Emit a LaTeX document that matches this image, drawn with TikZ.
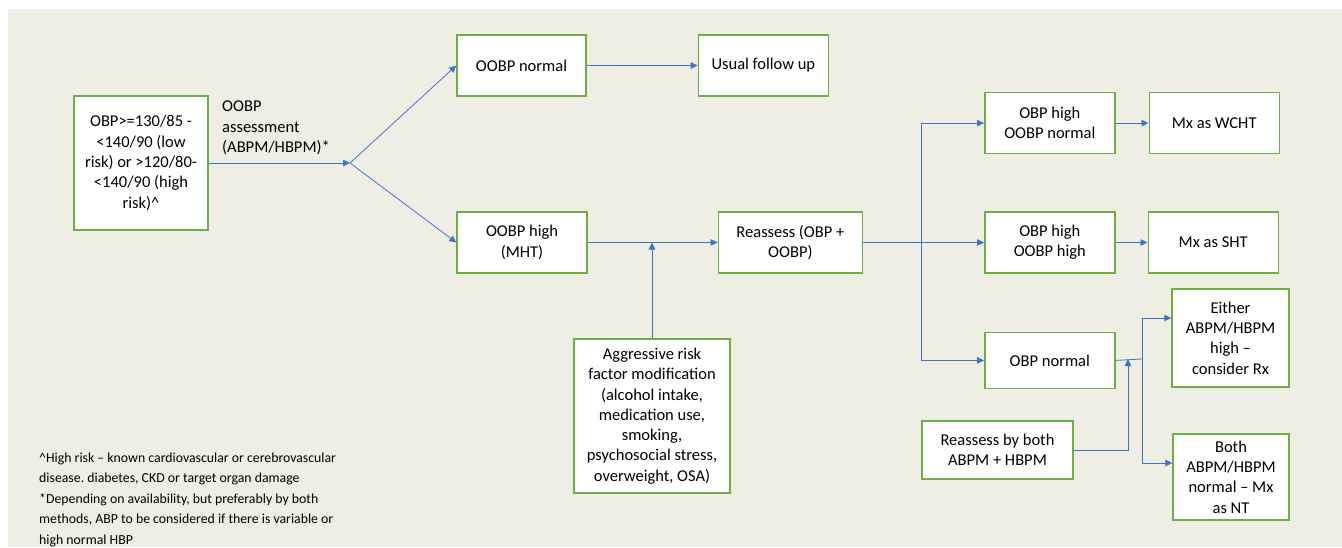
\documentclass[tikz,border=0pt]{standalone}
\usepackage{fontspec}
\setmainfont{Carlito}
\frenchspacing
\usetikzlibrary{positioning,arrows.meta}
\definecolor{bgbeige}{HTML}{EFEEE4}
\definecolor{boxgreen}{HTML}{70AD47}
\definecolor{lineblue}{HTML}{4472C4}

\begin{document}
\begin{tikzpicture}[x=1pt,y=-1pt,box/.style={draw=boxgreen,line width=1.4pt,fill=white,align=center,inner sep=2pt,font=\fontsize{16.5}{20.3}\selectfont,minimum width=130pt,minimum height=61pt},line/.style={-{Triangle[length=7pt,width=6.5pt]},draw=lineblue,line width=0.8pt},note/.style={align=left,inner sep=0pt,font=\fontsize{16.5}{20.3}\selectfont}]
\useasboundingbox (0,0) rectangle (1342,547);
\fill[bgbeige] (8,9) rectangle (1342,547);
% left part
\node[box,minimum width=134pt,minimum height=134pt] (st) at (141,163) {OBP>=130/85 -\\<140/90 (low\\risk) or >120/80-\\<140/90 (high\\risk)\textasciicircum};
\coordinate (split) at (350,163);
\node[box,minimum width=129pt] (on) at (521.5,65.5) {OOBP normal};
\node[box,right=111pt of on] (uf) {Usual follow up};
\node[box] (mh) at (522,242.5) {OOBP high\\(MHT)};
\node[box,minimum width=144pt,right=130pt of mh] (re) {Reassess (OBP +\\OOBP)};
\node[box,minimum width=156pt,minimum height=154pt] (ag) at (652,416) {Aggressive risk\\factor modification\\(alcohol intake,\\medication use,\\smoking,\\psychosocial stress,\\overweight, OSA)};
\node[note,anchor=west] (lbl) at (222,128) {OOBP\\assessment\\(ABPM/HBPM)*};
% right part
\node[box,right=121pt of re] (hh) {OBP high\\OOBP high};
\node[box,above=57pt of hh] (hn) {OBP high\\OOBP normal};
\node[box,minimum height=56pt,below=58pt of hh] (nn) {OBP normal};
\node[box,right=32pt of hh] (sht) {Mx as SHT};
\node[box,right=33pt of hn] (wcht) {Mx as WCHT};
\node[box,minimum width=117pt,minimum height=98pt] (ei) at (1230.5,338) {Either\\ABPM/HBPM\\high --\\consider Rx};
\node[box,minimum width=116pt,minimum height=86pt] (bo) at (1231,477) {Both\\ABPM/HBPM\\normal -- Mx\\as NT};
\node[box,minimum width=151pt,minimum height=58pt] (rb) at (997.5,450) {Reassess by both\\ABPM + HBPM};
\coordinate (fork) at (921,242.5);
\coordinate (fork2) at (1142,359);
\coordinate (join) at (1128,359);
% footnote
\node[note,anchor=west,font=\fontsize{13.8}{20.5}\selectfont] (fn) at (39,499.5) {\textasciicircum High risk -- known cardiovascular or cerebrovascular\\disease. diabetes, CKD or target organ damage\\*Depending on availability, but preferably by both\\methods, ABP to be considered if there is variable or\\high normal HBP};
% connectors
\draw[line] (st.east)--(split);\draw[line] (split)--(on.west);\draw[line] (split)--(mh.west);
\draw[line] (on)--(uf);\draw[line] (mh)--(re);\draw[line] (ag.north)--(ag.north |- mh.east);
\draw[line] (re)--(hh);\draw[line] (fork) |- (hn.west);\draw[line] (fork) |- (nn.west);
\draw[line] (hn)--(wcht);\draw[line] (hh)--(sht);
\draw[draw=lineblue,line width=0.8pt] (nn.east)--(fork2);
\draw[line] (fork2) |- (ei.west |- 0,318);\draw[line] (fork2) |- (bo.west |- 0,463);
\draw[line] (rb.east) -| (join);
\end{tikzpicture}
\end{document}
